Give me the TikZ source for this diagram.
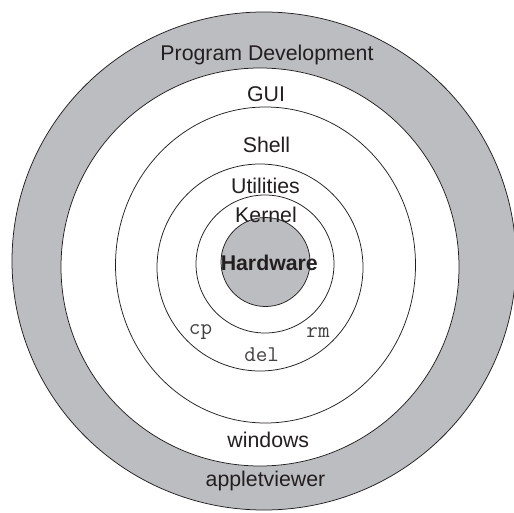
\documentclass[tikz,border=0pt]{standalone}
\usepackage{fontspec}
\setmainfont{Liberation Sans}
\definecolor{ringgray}{RGB}{188,189,193}
\definecolor{inkc}{RGB}{35,31,32}
\tikzset{
  ring/.style={draw=inkc, line width=0.75bp},
  lbl/.style={anchor=base, inner sep=0pt, text=inkc, font=\fontsize{21.3bp}{25bp}\selectfont},
  cmd/.style={anchor=base, inner sep=0pt, text=inkc!85, font=\ttfamily\fontsize{22.5bp}{26bp}\selectfont}
}
\begin{document}
\begin{tikzpicture}[x=1bp,y=-1bp]
\useasboundingbox (0,0) rectangle (514,513);
\begin{scope}
\clip (0,0) rectangle (514,513);
% outer ring (Program Development / appletviewer)
\fill[ringgray] (264,261) ellipse [x radius=252, y radius=249];
\draw[ring] (264,261) ellipse [x radius=252, y radius=249];
% GUI circle
\filldraw[ring, fill=white] (260,267) circle [radius=199];
% Shell
\draw[ring] (265.5,265) ellipse [x radius=150, y radius=158];
% Utilities
\draw[ring] (260,267.5) ellipse [x radius=103, y radius=103.5];
% Kernel
\draw[ring] (265,264) circle [radius=69];
% Hardware
\filldraw[ring, fill=ringgray] (265.5,262) circle [radius=44.5];
\end{scope}
% labels
\node[lbl] (progdev) at (267,61) {Program Development};
\node[lbl] (gui) at (266,101.5) {GUI};
\node[lbl] (shell) at (266.5,152.3) {Shell};
\node[lbl] (util) at (265.5,193.3) {Utilities};
\node[lbl] (kernel) at (266,222.7) {Kernel};
\node[lbl, font=\bfseries\fontsize{21.3bp}{25bp}\selectfont] (hw) at (269.3,270.7) {Hardware};
\node[cmd] (cp) at (200.5,334) {cp};
\node[cmd] (rm) at (318,337.3) {rm};
\node[cmd] (del) at (261.7,361) {del};
\node[lbl] (windows) at (268.3,447.7) {windows};
\node[lbl] (applet) at (265.5,486) {appletviewer};
\end{tikzpicture}
\end{document}
